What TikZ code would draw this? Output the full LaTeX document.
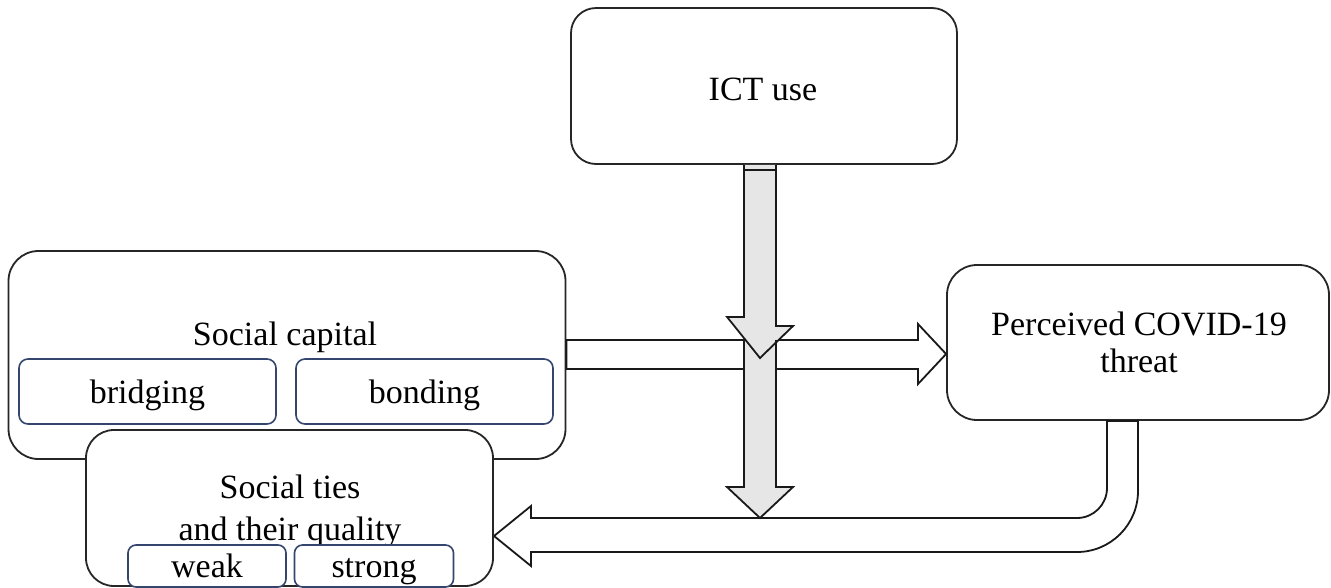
\documentclass[tikz,border=0pt]{standalone}
\usepackage{fontspec}
\setmainfont{Liberation Serif}
\usetikzlibrary{calc,positioning}

\definecolor{subline}{HTML}{34466E}
\definecolor{arrowgray}{HTML}{E6E6E6}
\newcommand{\diagfont}{\fontsize{34}{37}\selectfont}

\begin{document}
\begin{tikzpicture}[x=1pt, y=-1pt,
		box/.style={draw=black!85, line width=1.8pt, fill=white, rounded corners=#1, inner sep=0pt},
		box/.default=28pt,
		subbox/.style={draw=subline, line width=1.6pt, fill=white, rounded corners=9pt, inner sep=0pt},
		fat/.style={draw=black!90, line width=1.8pt, line join=miter},
		txt/.style={font=\diagfont, align=center, inner sep=0pt, anchor=base}]
	% Bildbereich
	\useasboundingbox (0,0) rectangle (1331,587);
	% Social capital
	\node (soc) [box=30pt, minimum width=557pt, minimum height=208pt] at (287,355) {};
	\node (soctext) [txt] at (285,345) {Social capital};
	\node (bridging) [subbox, minimum width=257pt, minimum height=65pt] at (147.5,391.5) {};
	\node (bonding) [subbox, minimum width=257pt, minimum height=65pt] at (424.5,391.5) {};
	\node (bridgingtext) [txt] at (bridging |- 0,403) {bridging};
	\node (bondingtext) [txt] at (bonding |- 0,403) {bonding};
	% Perceived threat
	\node (threat) [box=30pt, minimum width=382pt, minimum height=155pt] at (1138,342.5) {};
	\node (threattext) [txt] at (1139,372) {Perceived COVID-19\\threat};
	% Pfeil: Social capital -> threat
	\draw[fat, fill=white] (soc.east |- 0,340) -- (918,340) -- (918,324)
		-- (threat.west |- 0,354) -- (918,384) -- (918,369) -- (soc.east |- 0,369) -- cycle;
	% Rueckpfeil: threat -> Social ties
	\draw[fat, fill=white] (1107,0 |- threat.south) -- (1107,488) arc[start angle=0, end angle=90, radius=30]
		-- (531,518) -- (531,506) -- (494,536) -- (531,566) -- (531,552)
		-- (1077,552) arc[start angle=90, end angle=0, radius=61] -- (1138,0 |- threat.south) -- cycle;
	% Social ties
	\node (ties) [box=28pt, minimum width=407pt, minimum height=156pt] at (289.5,508) {};
	\node (tiestext) [txt] at (290,540) {Social ties\\[5pt]and their quality};
	\node (weak) [subbox, rounded corners=8pt, minimum width=158pt, minimum height=42pt] at (207,566) {};
	\node (strong) [subbox, rounded corners=8pt, minimum width=159pt, minimum height=42pt] at (374,566) {};
	\node (weaktext) [txt] at (weak |- 0,577) {weak};
	\node (strongtext) [txt] at (strong |- 0,577) {strong};
	% ICT use
	\node (ict) [box=25pt, minimum width=386pt, minimum height=156pt] at (764,86) {};
	\node (icttext) [txt] at (763,100) {ICT use};
	% Moderation: ICT use nach unten
	\coordinate (vtop) at (760,0 |- ict.south);
	\path[fill=arrowgray] (vtop) ++(-16,0) -- ++(0,152) -- ++(-17,0) -- (760,358) -- (793,326) -- (776,326) -- (776,0 |- vtop) -- cycle;
	\path[fill=arrowgray] (744,340) -- (744,487) -- (727,487) -- (760,518) -- (793,487) -- (776,487) -- (776,340) -- cycle;
	\draw[fat] (vtop) ++(-16,0) -- ++(0,152) -- ++(-17,0) -- (760,358) -- (793,326) -- (776,326) -- (776,0 |- vtop);
	\draw[fat] (vtop) ++(-16,5) -- ++(32,0);
	\draw[fat] (744,340) -- (744,487) -- (727,487) -- (760,518) -- (793,487) -- (776,487) -- (776,340);
\end{tikzpicture}
\end{document}
